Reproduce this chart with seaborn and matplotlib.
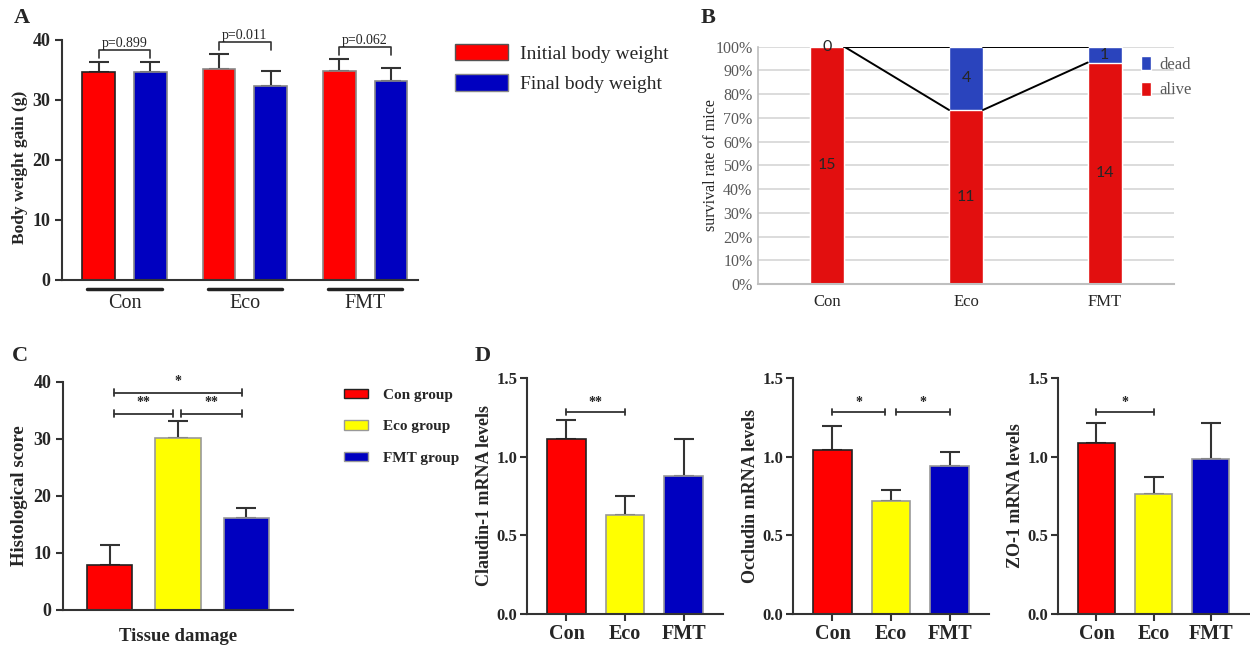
import numpy as np
import pandas as pd
import matplotlib
matplotlib.use("Agg")
import matplotlib.pyplot as plt
import matplotlib.transforms as mtransforms
from matplotlib.patches import Patch
from matplotlib.ticker import FuncFormatter
import seaborn as sns

# ---------------- data ----------------
groups = ["Con", "Eco", "FMT"]
# Panel A: body weight
initial_weight = [34.7, 35.2, 34.8]
initial_err = [1.7, 2.5, 2.1]
final_weight = [34.7, 32.4, 33.1]
final_err = [1.7, 2.5, 2.2]
p_values = ["p=0.899", "p=0.011", "p=0.062"]
# Panel B: survival counts
alive = [15, 11, 14]
dead = [0, 4, 1]
# Panel C: histological score
legend_groups = ["Con group", "Eco group", "FMT group"]
histo_score = [7.9, 30.2, 16.1]
histo_err = [3.5, 3.0, 1.7]
# Panel D: mRNA levels
claudin = [1.11, 0.63, 0.88]
claudin_err = [0.12, 0.12, 0.23]
occludin = [1.045, 0.72, 0.94]
occludin_err = [0.15, 0.065, 0.087]
zo1 = [1.09, 0.76, 0.985]
zo1_err = [0.125, 0.11, 0.23]

RED = "#FF0000"
BLUE = "#0000C0"
YELLOW = "#FFFF00"
B_RED = "#E20F0F"
B_BLUE = "#2A44BD"

sns.set_style("white")
plt.rcParams["font.family"] = ["Liberation Serif", "DejaVu Serif"]

W, H = 1250, 646
fig = plt.figure(figsize=(12.5, 6.46), dpi=100)


def box(l, t, r, b):
    return [l / W, 1 - b / H, (r - l) / W, (b - t) / H]


def style_prism(ax):
    for s in ["top", "right"]:
        ax.spines[s].set_visible(False)
    for s in ["left", "bottom"]:
        ax.spines[s].set_color("#333333")
        ax.spines[s].set_linewidth(1.5)
    ax.tick_params(axis="y", direction="out", length=5, width=1.5, color="#333333", left=True)


def add_errbars(ax, errs):
    for p, e in zip(ax.patches, errs):
        cx = p.get_x() + p.get_width() / 2
        h = p.get_height()
        ax.errorbar(cx, h, yerr=[[0], [e]], fmt="none", ecolor="#333333",
                    elinewidth=1.5, capsize=7, capthick=1.5, zorder=0.5)


def centers(ax):
    return [p.get_x() + p.get_width() / 2 for p in ax.patches]


def bracket(ax, x1, x2, y, cap, label, fs, tgap):
    ax.plot([x1, x2], [y, y], color="#333333", lw=1.3, clip_on=False)
    ax.plot([x1, x1], [y - cap, y + cap], color="#333333", lw=1.3, clip_on=False)
    ax.plot([x2, x2], [y - cap, y + cap], color="#333333", lw=1.3, clip_on=False)
    ax.text((x1 + x2) / 2, y + tgap, label, ha="center", va="bottom",
            fontsize=fs, fontweight="bold", color="#222222")


# ---------------- Panel A ----------------
axA = fig.add_axes(box(62, 40, 418, 280))
dfA = pd.DataFrame({
    "group": groups * 2,
    "weight": initial_weight + final_weight,
    "time": ["Initial body weight"] * 3 + ["Final body weight"] * 3,
})
sns.barplot(data=dfA, x="group", y="weight", hue="time", palette=[RED, BLUE],
            width=0.86, gap=0.37, errorbar=None, saturation=1, legend=False,
            edgecolor="#888888", linewidth=1.2, ax=axA)
axA.patches[0].set_edgecolor("#222222")
add_errbars(axA, initial_err + final_err)
style_prism(axA)
axA.set_xlim(-0.52, 2.44)
axA.set_ylim(0, 40)
axA.set_yticks([0, 10, 20, 30, 40])
axA.tick_params(axis="x", length=0, pad=10, labelsize=14.5)
for t in axA.get_yticklabels():
    t.set_fontweight("bold")
    t.set_fontsize(13)
axA.set_xlabel("")
axA.set_ylabel("Body weight gain (g)", fontsize=12.5, fontweight="bold")
axA.yaxis.set_label_coords(-0.096, 0.47)
cA = centers(axA)
topsA = [h + e for h, e in zip(initial_weight + final_weight, initial_err + final_err)]
for i, txt in enumerate(p_values):
    x1, x2 = cA[i], cA[i + 3]
    y = max(topsA[i], topsA[i + 3]) + 1.9
    axA.plot([x1, x1, x2, x2], [y - 1.3, y, y, y - 1.3], color="#333333", lw=1.2, clip_on=False)
    axA.text((x1 + x2) / 2, y + 0.1, txt, ha="center", va="bottom", fontsize=10)
trA = mtransforms.blended_transform_factory(axA.transData, axA.transAxes)
for i in range(len(groups)):
    axA.plot([i - 0.31, i + 0.31], [-0.037, -0.037], color="#222222", lw=2.5,
             transform=trA, clip_on=False)
fig.legend(handles=[Patch(facecolor=RED, edgecolor="#555555", label="Initial body weight"),
                    Patch(facecolor=BLUE, edgecolor="#888888", label="Final body weight")],
           loc="upper left", bbox_to_anchor=(455 / W, 1 - 44 / H), frameon=False,
           fontsize=14, handlelength=2.75, handleheight=0.9, labelspacing=0.6,
           handletextpad=0.6, borderaxespad=0, borderpad=0)

# ---------------- Panel B ----------------
axB = fig.add_axes(box(758, 46.7, 1174, 284))
total = [a + d for a, d in zip(alive, dead)]
alive_pct = [100 * a / t for a, t in zip(alive, total)]
dead_pct = [100 * d / t for d, t in zip(dead, total)]
dfB = pd.DataFrame({"group": groups, "total": [a + d for a, d in zip(alive_pct, dead_pct)],
                    "alive": alive_pct})
sns.barplot(data=dfB, x="group", y="total", color=B_BLUE, width=0.245, saturation=1,
            errorbar=None, ax=axB, zorder=2)
sns.barplot(data=dfB, x="group", y="alive", color=B_RED, width=0.245, saturation=1,
            errorbar=None, ax=axB, zorder=2)
hw = 0.245 / 2
for i in range(len(groups) - 1):
    axB.plot([i + hw, i + 1 - hw], [alive_pct[i], alive_pct[i + 1]], color="black", lw=1.4, zorder=3)
    axB.plot([i + hw, i + 1 - hw], [alive_pct[i] + dead_pct[i], alive_pct[i + 1] + dead_pct[i + 1]],
             color="black", lw=1.4, zorder=3)
for i in range(len(groups)):
    axB.text(i, alive_pct[i] / 2, str(alive[i]), ha="center", va="center",
             fontsize=11.5, family="Lato", zorder=4)
    axB.text(i, alive_pct[i] + dead_pct[i] / 2, str(dead[i]), ha="center", va="center",
             fontsize=11.5, family="Lato", zorder=4)
axB.set_xlim(-0.5, 2.5)
axB.set_ylim(0, 100)
axB.set_yticks(np.arange(0, 101, 10))
axB.yaxis.set_major_formatter(FuncFormatter(lambda v, p: f"{int(v)}%"))
axB.yaxis.grid(True, color="#D9D9D9", lw=1.3)
axB.set_axisbelow(True)
for s in ["top", "right"]:
    axB.spines[s].set_visible(False)
axB.spines["left"].set_color("#BFBFBF")
axB.spines["bottom"].set_color("#BFBFBF")
axB.spines["left"].set_linewidth(1.2)
axB.spines["bottom"].set_linewidth(1.5)
axB.tick_params(axis="y", length=0, labelsize=11.5, labelcolor="#595959", pad=4)
axB.tick_params(axis="x", length=0, labelsize=12, pad=7)
axB.set_xlabel("")
axB.set_ylabel("survival rate of mice", fontsize=11.5)
axB.yaxis.set_label_coords(-0.094, 0.5)
fig.legend(handles=[Patch(facecolor=B_BLUE, label="dead"), Patch(facecolor=B_RED, label="alive")],
           loc="upper left", bbox_to_anchor=(1141 / W, 1 - 56 / H), frameon=False,
           fontsize=12, handlelength=0.6, handleheight=0.9, labelspacing=0.55,
           handletextpad=0.5, borderaxespad=0, borderpad=0, labelcolor="#595959")

# ---------------- Panel C ----------------
axC = fig.add_axes(box(63, 381.7, 293, 610))
dfC = pd.DataFrame({"group": legend_groups, "score": histo_score})
sns.barplot(data=dfC, x="group", y="score", hue="group", palette=[RED, YELLOW, BLUE],
            width=0.66, saturation=1, errorbar=None, legend=False,
            edgecolor="#999999", linewidth=1.2, ax=axC)
axC.patches[0].set_edgecolor("#222222")
add_errbars(axC, histo_err)
style_prism(axC)
axC.set_xlim(-0.68, 2.68)
axC.set_ylim(0, 40)
axC.set_yticks([0, 10, 20, 30, 40])
axC.set_xticks([])
for t in axC.get_yticklabels():
    t.set_fontweight("bold")
    t.set_fontsize(13)
axC.set_ylabel("Histological score", fontsize=13.5, fontweight="bold")
axC.yaxis.set_label_coords(-0.15, 0.5)
axC.set_xlabel("Tissue damage", fontsize=13.5, fontweight="bold", labelpad=13)
low = max(h + e for h, e in zip(histo_score, histo_err)) + 1.2
bracket(axC, 0.07, 0.93, low, 0.6, "**", 10, 0.8)
bracket(axC, 1.05, 1.93, low, 0.6, "**", 10, 0.8)
bracket(axC, 0.07, 1.93, low + 3.7, 0.6, "*", 10, 0.8)
fig.legend(handles=[Patch(facecolor=c, edgecolor=ec, label=l) for c, ec, l in
                    zip([RED, YELLOW, BLUE], ["#222222", "#999999", "#999999"], legend_groups)],
           loc="upper left", bbox_to_anchor=(344 / W, 1 - 389 / H), frameon=False,
           prop={"size": 11, "weight": "bold"}, handlelength=1.55, handleheight=0.55,
           labelspacing=1.2, handletextpad=1.0, borderaxespad=0, borderpad=0)

# ---------------- Panel D ----------------
d_sets = [
    (claudin, claudin_err, "Claudin-1 mRNA levels", [(0, 1, "**")], (527, 723), -0.175),
    (occludin, occludin_err, "Occludin mRNA levels", [(0, 0.9, "*"), (1.08, 2, "*")], (793, 989), -0.175),
    (zo1, zo1_err, "ZO-1 mRNA levels", [(0, 1, "*")], (1058, 1249), -0.178),
]
for vals, errs, lab, brs, (l, r), lx in d_sets:
    ax = fig.add_axes(box(l, 378, r, 614))
    dfD = pd.DataFrame({"group": groups, "level": vals})
    sns.barplot(data=dfD, x="group", y="level", hue="group", palette=[RED, YELLOW, BLUE],
                width=0.65, saturation=1, errorbar=None, legend=False,
                edgecolor="#999999", linewidth=1.2, ax=ax)
    ax.patches[0].set_edgecolor("#222222")
    add_errbars(ax, errs)
    style_prism(ax)
    ax.set_xlim(-0.675, 2.675)
    ax.set_ylim(0, 1.5)
    ax.set_yticks([0.0, 0.5, 1.0, 1.5])
    ax.yaxis.set_major_formatter(FuncFormatter(lambda v, p: f"{v:.1f}"))
    ax.tick_params(axis="x", direction="out", length=5, width=1.5, color="#333333",
                   bottom=True, pad=2, labelsize=14.5)
    ax.tick_params(axis="y", pad=2)
    for t in ax.get_yticklabels() + ax.get_xticklabels():
        t.set_fontweight("bold")
    for t in ax.get_yticklabels():
        t.set_fontsize(12)
    ax.set_xlabel("")
    ax.set_ylabel(lab, fontsize=13, fontweight="bold")
    ax.yaxis.set_label_coords(lx, 0.5)
    for x1, x2, s in brs:
        bracket(ax, x1, x2, 1.285, 0.018, s, 10, 0.02)

# panel letters
for letter, (px, py) in {"A": (22, 18), "B": (708, 18), "C": (20, 356), "D": (483, 356)}.items():
    fig.text(px / W, 1 - py / H, letter, fontsize=16, fontweight="bold", ha="center", va="center")

fig.savefig("out.png", dpi=100)
